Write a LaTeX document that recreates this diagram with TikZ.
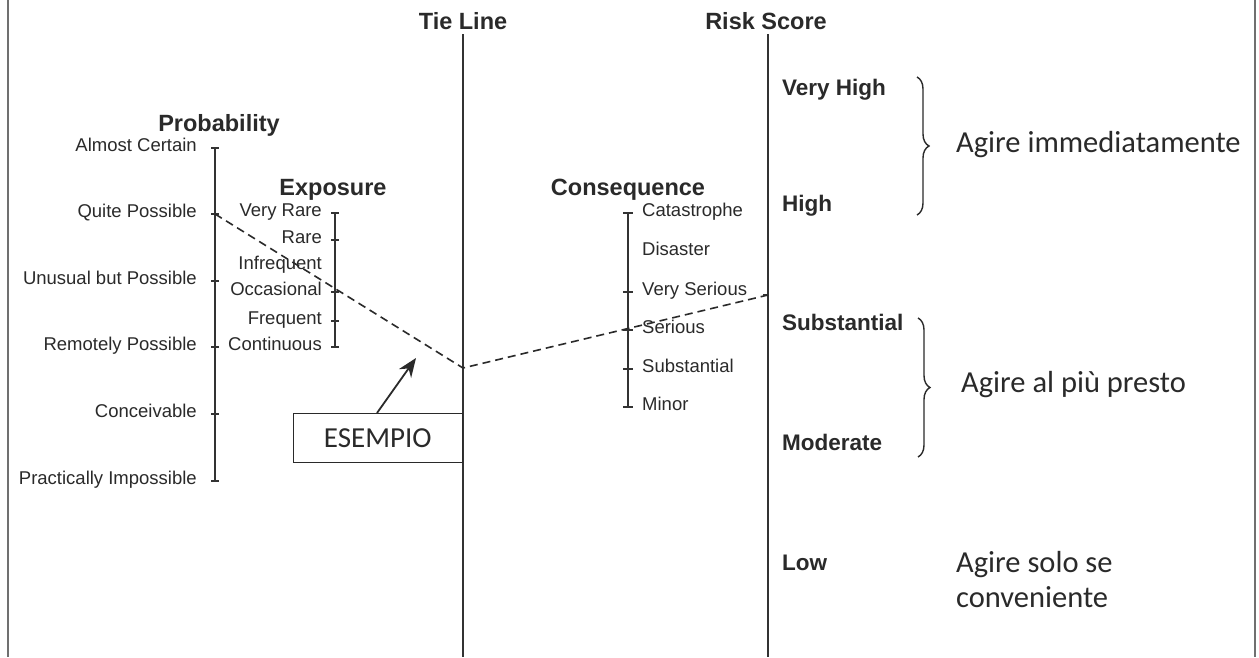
\documentclass[tikz,border=0pt]{standalone}
\usepackage{fontspec}
\setmainfont{Liberation Sans}
\newfontfamily\calfont{Carlito}
\usetikzlibrary{decorations.pathreplacing,arrows.meta,calc}
\definecolor{ink}{HTML}{2A2A2A}
\definecolor{axcol}{HTML}{333333}
\definecolor{framecol}{HTML}{707070}
\begin{document}
\begin{tikzpicture}[x=1pt,y=-1pt,
  axis/.style={draw=axcol, line width=1.8pt},
  tick/.style={draw=axcol, line width=1.4pt},
  small/.style={text=ink, inner sep=0pt, font=\fontsize{18.5}{20}\selectfont, text height=1.5ex, text depth=0.3ex},
  ttl/.style={text=ink, inner sep=0pt, font=\fontsize{23.5}{26}\selectfont\bfseries},
  risk/.style={text=ink, inner sep=0pt, anchor=west, font=\fontsize{22.5}{24}\selectfont\bfseries, text height=1.5ex, text depth=0.3ex},
  act/.style={text=ink, inner sep=0pt, anchor=west, align=left, font=\fontsize{30.5}{35}\selectfont\calfont},
  tie/.style={draw=ink, line width=1.6pt, dash pattern=on 8pt off 5pt},
  brc/.style={draw=ink, line width=1.4pt, decorate, decoration={brace, amplitude=12pt, aspect=0.5}},
]
\useasboundingbox (0,0) rectangle (1259,657);
\fill[white] (0,0) rectangle (1259,657);
% frame sides
\draw[framecol, line width=2.2pt] (8,0) -- (8,657);
\draw[framecol, line width=2.2pt] (1255,0) -- (1255,657);

% main vertical lines
\node[ttl] (tietitle) at (463,21) {Tie Line};
\node[ttl] (risktitle) at (766,21) {Risk Score};
\coordinate (tietop) at (463,34);
\coordinate (tiebot) at (463,657);
\coordinate (risktop) at (768,34);
\coordinate (riskbot) at (768,657);
\draw[axis] (tietop) -- (tiebot);
\draw[axis] (risktop) -- (riskbot);
\coordinate (riskpt) at (768,295);
\draw[tick] (riskpt) -- ++(-5,0);

% Probability
\node[ttl] (probtitle) at (219,125) {Probability};
\foreach \y/\n/\t in {148/p1/Almost Certain, 214/p2/Quite Possible, 281/p3/Unusual but Possible, 347/p4/Remotely Possible, 414/p5/Conceivable, 481/p6/Practically Impossible}{
  \coordinate (\n) at (215,\y);
  \draw[tick] (211,\y) -- (219,\y);
  \node[small, anchor=east] (\n lab) at (197,\y) {\t};
}
\draw[axis] (p1) -- (p6);

% Exposure
\node[ttl] (exptitle) at (333,190) {Exposure};
\foreach \y/\n/\t in {213/e1/Very Rare, 240/e2/Rare, 266/e3/Infrequent, 292/e4/Occasional, 321/e5/Frequent, 347/e6/Continuous}{
  \coordinate (\n) at (335,\y);
  \node[small, anchor=east] (\n lab) at (322,\y) {\t};
}
\foreach \n in {e1,e2,e4,e5,e6}{ \draw[tick] ($(\n)+(-4,0)$) -- ($(\n)+(4,0)$); }
\draw[axis] (e1) -- (e6);

% Consequence
\node[ttl] (contitle) at (628,190) {Consequence};
\foreach \y/\n/\t in {213/c1/Catastrophe, 252/c2/Disaster, 292/c3/Very Serious, 330/c4/Serious, 369/c5/Substantial, 407/c6/Minor}{
  \coordinate (\n) at (628,\y);
  \node[small, anchor=west] (\n lab) at (642,\y) {\t};
}
\foreach \n in {c1,c3,c4,c5,c6}{ \draw[tick] ($(\n)+(-5,0)$) -- ($(\n)+(5,0)$); }
\draw[axis] (c1) -- (c6);

% Risk score labels
\node[risk] (vh) at (782,92) {Very High};
\node[risk] (hi) at (782,208) {High};
\node[risk] (sub) at (782,327) {Substantial};
\node[risk] (mod) at (782,447) {Moderate};
\node[risk] (low) at (782,567) {Low};

% braces and actions
\coordinate (b1a) at (917,77);
\coordinate (b1b) at (917,215);
\coordinate (b2a) at (918,318);
\coordinate (b2b) at (918,457);
\draw[brc] (b1a) -- (b1b);
\draw[brc] (b2a) -- (b2b);
\node[act] (a1) at (956,145) {Agire immediatamente};
\node[act] (a2) at (961,385) {Agire al più presto};
\node[act] (a3) at (956,580) {Agire solo se\\conveniente};

% example tie line
\coordinate (tiept) at (463,368);
\draw[tie] (p2) -- (tiept) -- (riskpt);

% example box
\node[draw=ink, line width=1.4pt, minimum width=169pt, minimum height=49pt, inner sep=0pt, anchor=north east, text=ink, font=\fontsize{29}{32}\selectfont\calfont] (ex) at (463,413) {ESEMPIO};
\coordinate (arrbase) at (377,413);
\coordinate (arrtip) at (416,358);
\draw[ink, line width=1.8pt, -{Stealth[length=19pt, width=15pt]}] (arrbase) -- (arrtip);
\end{tikzpicture}
\end{document}
